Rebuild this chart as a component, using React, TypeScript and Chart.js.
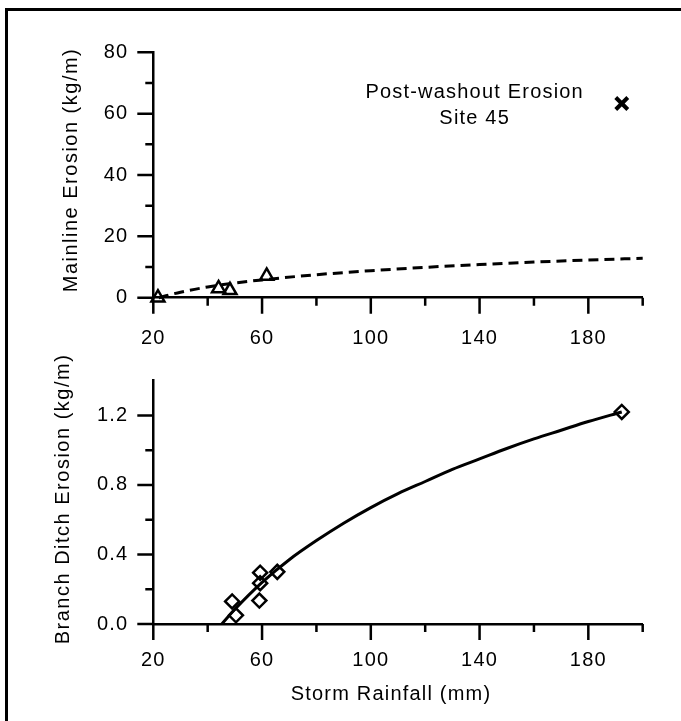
import React, { useEffect, useRef } from 'react';
import { Chart, registerables } from 'chart.js';

Chart.register(...registerables);

const FONT = "'Liberation Sans', Arial, Helvetica, sans-serif";

// ---- Top panel: mainline erosion ----
const MAIN_RAIN = [21.7, 44.0, 48.2, 61.7];
const MAIN_EROSION = [0.0, 3.0, 2.4, 7.1];
const WASHOUT_RAIN = [192.3];
const WASHOUT_EROSION = [63.3];
const MAIN_FIT_RAIN = [22, 30, 40, 50, 60, 80, 100, 120, 140, 160, 180, 200];
const MAIN_FIT_EROSION = [0, 1.8, 3.5, 4.8, 5.8, 7.5, 8.8, 9.9, 10.8, 11.6, 12.3, 12.85];

// ---- Bottom panel: branch ditch erosion ----
const BRANCH_RAIN = [49.0, 50.4, 59.3, 59.3, 59.0, 65.6, 192.3];
const BRANCH_EROSION = [0.13, 0.05, 0.295, 0.235, 0.135, 0.3, 1.22];
const BRANCH_FIT_RAIN = [45.2, 50, 60, 70, 80, 90, 100, 110, 120, 130, 140, 150, 160, 170, 180, 192.3];
const BRANCH_FIT_EROSION = [0, 0.085, 0.24, 0.37, 0.48, 0.58, 0.67, 0.75, 0.82, 0.89, 0.95, 1.01, 1.065, 1.115, 1.165, 1.22];

// ---- Axes ----
const X_MIN = 20;
const X_MAX = 200;
const X_LABEL_TICKS = [20, 60, 100, 140, 180];
const X_MINOR_TICKS = [40, 80, 120, 160, 200];
const Y1_MAX = 80;
const Y1_LABEL_TICKS = [0, 20, 40, 60, 80];
const Y1_MINOR_TICKS = [10, 30, 50, 70];
const Y2_MAX = 1.4;
const Y2_LABEL_TICKS = [0, 0.4, 0.8, 1.2];
const Y2_MINOR_TICKS = [0.2, 0.6, 1.0];

// ---- Text ----
const X_TITLE = 'Storm Rainfall (mm)';
const Y1_TITLE = 'Mainline Erosion (kg/m)';
const Y2_TITLE = 'Branch Ditch Erosion (kg/m)';
const NOTE_LINES = ['Post-washout Erosion', 'Site 45'];
const NOTE_X = 138.2;
const NOTE_Y = [65.0, 56.5];

const pts = (xs: number[], ys: number[]) => xs.map((x, i) => ({ x, y: ys[i] }));

const decorPlugin = {
  id: 'decor',
  beforeDraw(chart: any) {
    chart.ctx.letterSpacing = '1.2px';
  },
  afterDraw(chart: any, _args: any, opts: any) {
    const { ctx, chartArea: ca, scales } = chart;
    const xs = scales.x;
    const ys = scales.y;
    ctx.save();
    ctx.strokeStyle = '#000';
    ctx.lineWidth = 2.5;
    ctx.lineCap = 'butt';
    ctx.beginPath();
    const xt = (vals: number[], len: number) => {
      for (const v of vals) {
        const p = xs.getPixelForValue(v);
        ctx.moveTo(p, ca.bottom);
        ctx.lineTo(p, ca.bottom + len);
      }
    };
    const yt = (vals: number[], len: number) => {
      for (const v of vals) {
        const p = ys.getPixelForValue(v);
        ctx.moveTo(ca.left, p);
        ctx.lineTo(ca.left - len, p);
      }
    };
    xt(X_LABEL_TICKS, 16);
    xt(X_MINOR_TICKS, 8);
    yt(opts.yMajor, 16);
    yt(opts.yMinor, 8);
    ctx.stroke();

    ctx.fillStyle = '#000';
    ctx.font = `20px ${FONT}`;
    ctx.textBaseline = 'alphabetic';
    ctx.textAlign = 'center';
    // y title
    ctx.letterSpacing = '1.5px';
    ctx.save();
    ctx.translate(opts.yTitle.x, opts.yTitle.y);
    ctx.rotate(-Math.PI / 2);
    ctx.fillText(opts.yTitle.text, 0, 0);
    ctx.restore();
    ctx.letterSpacing = '1.2px';
    if (opts.xTitle) {
      ctx.fillText(opts.xTitle.text, opts.xTitle.x, opts.xTitle.y);
    }
    if (opts.notes) {
      opts.notes.forEach((t: string, i: number) => {
        ctx.fillText(t, xs.getPixelForValue(NOTE_X), ys.getPixelForValue(NOTE_Y[i]));
      });
    }
    ctx.restore();
  },
};

function makeOptions(cfg: any) {
  return {
    type: 'scatter' as const,
    data: { datasets: cfg.datasets },
    options: {
      animation: false,
      responsive: false,
      devicePixelRatio: 1,
      events: [],
      layout: { padding: cfg.padding },
      plugins: {
        legend: { display: false },
        tooltip: { enabled: false },
        decor: cfg.decor,
      },
      scales: {
        x: {
          type: 'linear',
          min: X_MIN,
          max: X_MAX,
          afterBuildTicks: (s: any) => {
            s.ticks = X_LABEL_TICKS.map((v) => ({ value: v }));
          },
          afterFit: (s: any) => {
            s.height = 60;
          },
          grid: { display: false, drawTicks: false },
          border: { display: true, color: '#000', width: 2.5 },
          ticks: {
            color: '#000',
            font: { family: FONT, size: 20 },
            padding: cfg.xPad,
            maxRotation: 0,
            autoSkip: false,
            callback: (v: any) => String(v),
          },
        },
        y: {
          type: 'linear',
          min: 0,
          max: cfg.yMax,
          afterBuildTicks: (s: any) => {
            s.ticks = cfg.yLabels.map((v: number) => ({ value: v }));
          },
          afterFit: (s: any) => {
            s.width = 153.3;
          },
          grid: { display: false, drawTicks: false },
          border: { display: true, color: '#000', width: 2.5 },
          ticks: {
            color: '#000',
            font: { family: FONT, size: 20 },
            padding: 25,
            autoSkip: false,
            callback: cfg.yFmt,
          },
        },
      },
    },
    plugins: [decorPlugin],
  };
}

export default function App() {
  const topRef = useRef<HTMLCanvasElement>(null);
  const botRef = useRef<HTMLCanvasElement>(null);

  useEffect(() => {
    const top = new Chart(
      topRef.current as HTMLCanvasElement,
      makeOptions({
        padding: { left: 0, right: 38.3, top: 52.3, bottom: 363.3 },
        xPad: 28.6,
        yMax: Y1_MAX,
        yLabels: Y1_LABEL_TICKS,
        yFmt: (v: any) => String(v),
        decor: {
          yMajor: Y1_LABEL_TICKS,
          yMinor: Y1_MINOR_TICKS,
          yTitle: { text: Y1_TITLE, x: 76.5, y: 170 },
          notes: NOTE_LINES,
        },
        datasets: [
          {
            data: pts(WASHOUT_RAIN, WASHOUT_EROSION),
            pointStyle: 'crossRot',
            pointRadius: 8.5,
            borderWidth: 4,
            borderColor: '#000',
            clip: false,
          },
          {
            data: pts(MAIN_RAIN, MAIN_EROSION),
            pointStyle: 'triangle',
            pointRadius: 7.5,
            borderWidth: 2.5,
            borderColor: '#000',
            backgroundColor: 'rgba(0,0,0,0)',
            clip: false,
          },
          {
            data: pts(MAIN_FIT_RAIN, MAIN_FIT_EROSION),
            showLine: true,
            pointRadius: 0,
            borderColor: '#000',
            borderWidth: 3,
            borderDash: [10, 6],
            cubicInterpolationMode: 'monotone',
            clip: false,
          },
        ],
      }) as any
    );
    const bot = new Chart(
      botRef.current as HTMLCanvasElement,
      makeOptions({
        padding: { left: 0, right: 38.3, top: 380.7, bottom: 37 },
        xPad: 24.8,
        yMax: Y2_MAX,
        yLabels: Y2_LABEL_TICKS,
        yFmt: (v: any) => Number(v).toFixed(1),
        decor: {
          yMajor: Y2_LABEL_TICKS,
          yMinor: Y2_MINOR_TICKS,
          yTitle: { text: Y2_TITLE, x: 69, y: 499 },
          xTitle: { text: X_TITLE, x: 391, y: 700 },
        },
        datasets: [
          {
            data: pts(BRANCH_RAIN, BRANCH_EROSION),
            pointStyle: 'rectRot',
            pointRadius: 7,
            borderWidth: 2.5,
            borderColor: '#000',
            backgroundColor: 'rgba(0,0,0,0)',
            clip: false,
          },
          {
            data: pts(BRANCH_FIT_RAIN, BRANCH_FIT_EROSION),
            showLine: true,
            pointRadius: 0,
            borderColor: '#000',
            borderWidth: 3,
            cubicInterpolationMode: 'monotone',
            clip: false,
          },
        ],
      }) as any
    );
    return () => {
      top.destroy();
      bot.destroy();
    };
  }, []);

  return (
    <div
      style={{
        position: 'fixed',
        left: 0,
        top: 0,
        width: 681,
        height: 721,
        overflow: 'hidden',
        background: '#fff',
      }}
    >
      <div
        style={{
          position: 'absolute',
          left: 5,
          top: 8,
          right: -20,
          bottom: -20,
          borderTop: '3px solid #000',
          borderLeft: '3px solid #000',
        }}
      />
      <canvas ref={topRef} width={681} height={721} style={{ position: 'absolute', left: 0, top: 0 }} />
      <canvas ref={botRef} width={681} height={721} style={{ position: 'absolute', left: 0, top: 0 }} />
    </div>
  );
}
